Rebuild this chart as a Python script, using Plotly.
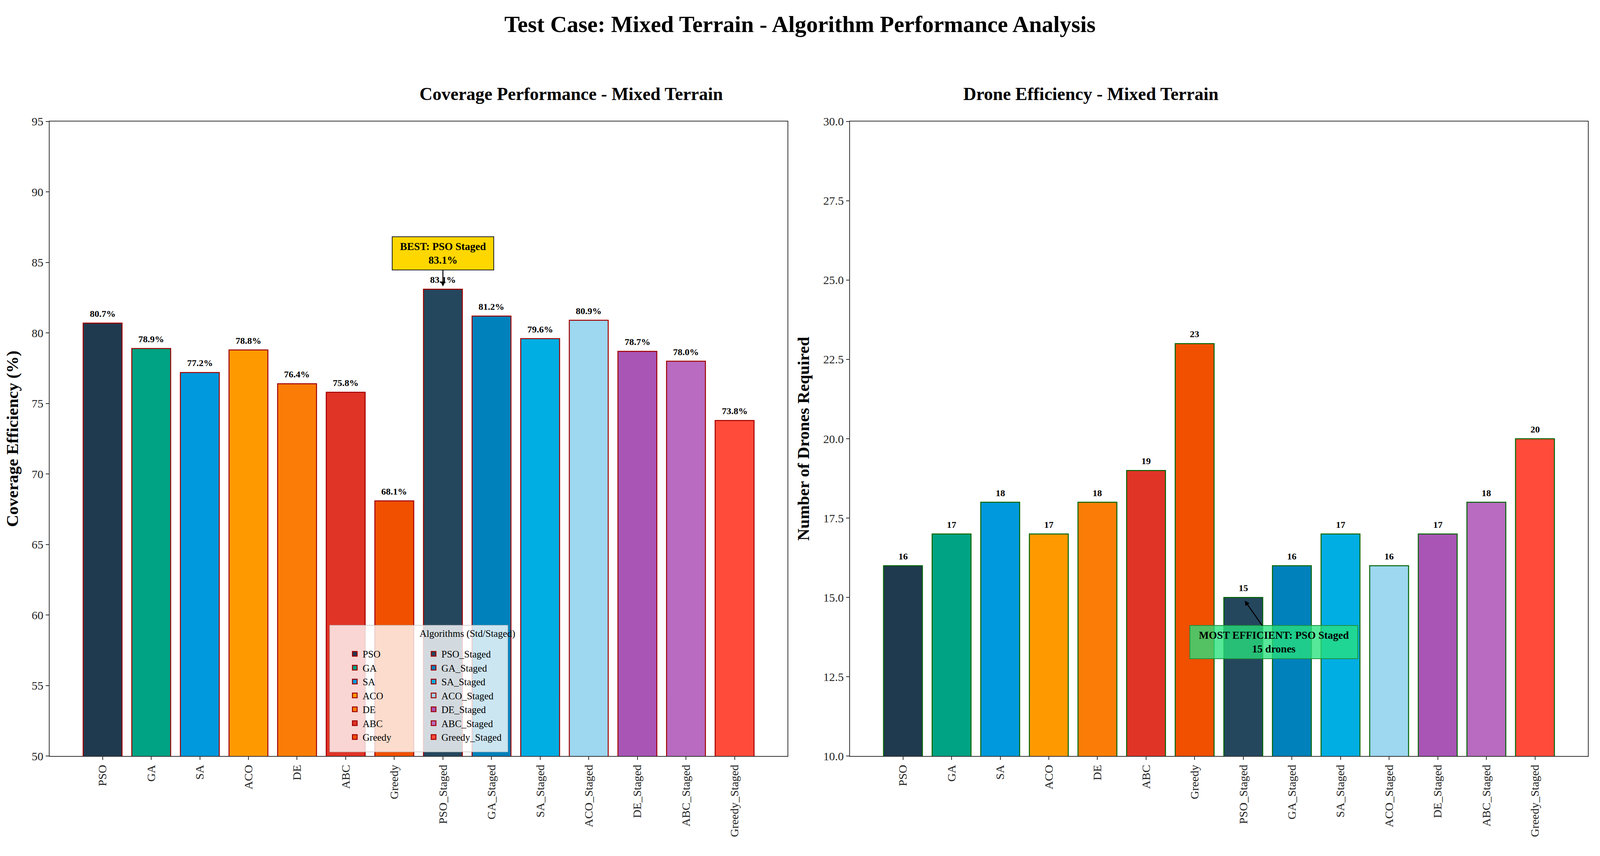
import plotly.graph_objects as go
from plotly.subplots import make_subplots

# algorithm names (standard then staged)
algorithms = ['PSO', 'GA', 'SA', 'ACO', 'DE', 'ABC', 'Greedy',
              'PSO_Staged', 'GA_Staged', 'SA_Staged', 'ACO_Staged', 'DE_Staged', 'ABC_Staged', 'Greedy_Staged']
coverage = [80.7, 78.9, 77.2, 78.8, 76.4, 75.8, 68.1, 83.1, 81.2, 79.6, 80.9, 78.7, 78.0, 73.8]
drones = [16, 17, 18, 17, 18, 19, 23, 15, 16, 17, 16, 17, 18, 20]
bar_colors = ['#1F3A4F', '#00A383', '#0099DD', '#FF9900', '#FB7D07', '#E03427', '#F05000',
              '#24475E', '#0081BB', '#00AEE3', '#9DD7F0', '#A855B5', '#B86BC0', '#FF4B3A']

FONT = 'Liberation Serif, Times New Roman, serif'

# page is 4096x2191 css px with an 8px body margin; layout measured on a 4386x2191 picture
FW, FH = 4080, 2175
SX = 4096 / 4386


def fx(xr):
    return (xr * SX - 8) / FW


def fy(yr):
    return 1 - (yr - 8) / FH


fig = make_subplots(rows=1, cols=2)

n = len(algorithms)
xs = list(range(n))
for i in range(n):
    leg = 'legend' if i < 7 else 'legend2'
    fig.add_trace(go.Bar(x=[xs[i]], y=[coverage[i]], name=algorithms[i], width=0.8,
                         marker=dict(color=bar_colors[i], line=dict(color='#A00000', width=2.5)),
                         legend=leg, showlegend=True), row=1, col=1)
    fig.add_trace(go.Bar(x=[xs[i]], y=[drones[i]], name=algorithms[i], width=0.8,
                         marker=dict(color=bar_colors[i], line=dict(color='#006400', width=2.5)),
                         showlegend=False), row=1, col=2)
    # value labels above bars
    fig.add_annotation(x=xs[i], y=coverage[i], xref='x', yref='y', yanchor='bottom', yshift=9,
                       text=f'<b>{coverage[i]:.1f}%</b>', showarrow=False,
                       font=dict(family=FONT, size=24, color='black'))
    fig.add_annotation(x=xs[i], y=drones[i], xref='x2', yref='y2', yanchor='bottom', yshift=9,
                       text=f'<b>{drones[i]}</b>', showarrow=False,
                       font=dict(family=FONT, size=24, color='black'))

best = coverage.index(max(coverage))
eff = drones.index(min(drones))

axis_style = dict(showline=True, linecolor='#333333', linewidth=2, mirror=True,
                  ticks='outside', ticklen=8, tickwidth=2, tickcolor='#333333',
                  showgrid=False, zeroline=False,
                  tickfont=dict(family=FONT, size=30, color='#222222'))

fig.update_xaxes(axis_style)
fig.update_yaxes(axis_style)
fig.update_xaxes(tickmode='array', tickvals=xs, ticktext=algorithms, tickangle=-90,
                 range=[-1.09, n - 1 + 1.09])
fig.update_xaxes(domain=[fx(136), fx(2159)], row=1, col=1)
fig.update_xaxes(domain=[fx(2330), fx(4353)], row=1, col=2)
fig.update_yaxes(domain=[fy(1948), fy(299)])
fig.update_yaxes(range=[50, 95], dtick=5, row=1, col=1,
                 title=dict(text='<b>Coverage Efficiency (%)</b>', font=dict(family=FONT, size=43, color='black'),
                            standoff=22))
fig.update_yaxes(range=[10, 30], dtick=2.5, tickformat='.1f', row=1, col=2,
                 title=dict(text='<b>Number of Drones Required</b>', font=dict(family=FONT, size=43, color='black'),
                            standoff=22))

# subplot titles
fig.add_annotation(text='<b>Coverage Performance - Mixed Terrain</b>', xref='paper', yref='paper',
                   x=(fx(136) + fx(2159)) / 2, y=fy(228), yanchor='middle', showarrow=False,
                   font=dict(family=FONT, size=46, color='black'))
fig.add_annotation(text='<b>Drone Efficiency - Mixed Terrain</b>', xref='paper', yref='paper',
                   x=(fx(2330) + fx(4353)) / 2, y=fy(228), yanchor='middle', showarrow=False,
                   font=dict(family=FONT, size=46, color='black'))

# best / most efficient callouts
fig.add_annotation(x=xs[best], y=83.3, ax=xs[best], ay=85.64,
                   xref='x', yref='y', axref='x', ayref='y',
                   text=f'<b>BEST: PSO Staged<br>{coverage[best]:.1f}%</b>',
                   font=dict(family=FONT, size=27, color='black'), width=240,
                   bgcolor='#FFD700', bordercolor='#222222', borderwidth=2, borderpad=9,
                   showarrow=True, arrowhead=2, arrowsize=1, arrowwidth=2.5, arrowcolor='black')
fig.add_annotation(x=7.03, y=14.9, ax=7.63, ay=13.59,
                   xref='x2', yref='y2', axref='x2', ayref='y2',
                   text=f'<b>MOST EFFICIENT: PSO Staged<br>{drones[eff]} drones</b>',
                   font=dict(family=FONT, size=27, color='black'), width=410,
                   bgcolor='rgba(40,226,125,0.78)', bordercolor='#1E8F3E', borderwidth=2, borderpad=9,
                   showarrow=True, arrowhead=2, arrowsize=1, arrowwidth=2.5, arrowcolor='black')

# legend frame and title (two legend columns: standard / staged)
fig.add_shape(type='rect', xref='paper', yref='paper', layer='above',
              x0=fx(904), x1=fx(1392), y0=fy(1937), y1=fy(1608),
              fillcolor='rgba(255,255,255,0.8)', line=dict(color='rgba(190,190,190,0.9)', width=1.5))
fig.add_annotation(text='Algorithms (Std/Staged)', xref='paper', yref='paper',
                   x=(fx(904) + fx(1392)) / 2, y=fy(1630), yanchor='middle', showarrow=False,
                   font=dict(family=FONT, size=25, color='black'))

leg_common = dict(bgcolor='rgba(0,0,0,0)', borderwidth=0, font=dict(family=FONT, size=25, color='black'),
                  xref='paper', yref='paper', xanchor='left', yanchor='top', tracegroupgap=0)
fig.update_layout(
    width=FW, height=FH, autosize=False,
    margin=dict(l=0, r=0, t=0, b=0),
    paper_bgcolor='white', plot_bgcolor='white',
    title=dict(text='<b>Test Case: Mixed Terrain - Algorithm Performance Analysis</b>',
               x=0.5, xanchor='center', y=fy(61), yanchor='middle',
               font=dict(family=FONT, size=59, color='black')),
    legend=dict(x=(994 * SX - 8 - 40) / FW, y=fy(1659), **leg_common),
    legend2=dict(x=(1210 * SX - 8 - 40) / FW, y=fy(1659), **leg_common),
    barmode='overlay',
    font=dict(family=FONT),
)

fig.write_html('out.html')
